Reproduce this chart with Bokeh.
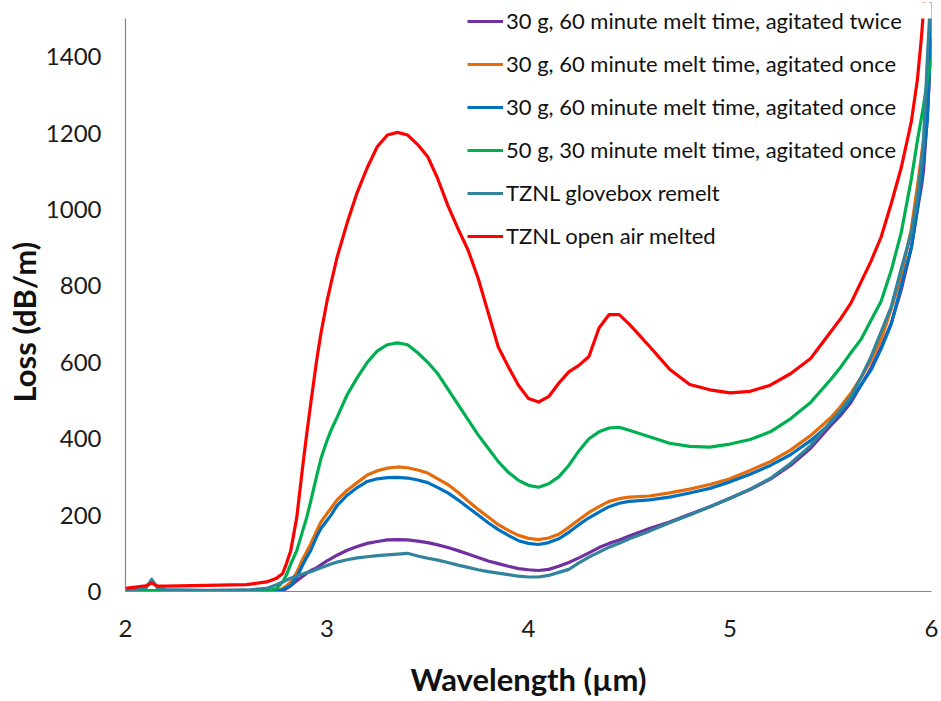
from bokeh.plotting import figure
from bokeh.models import Range1d, FixedTicker, Legend, LegendItem, BoxAnnotation, Title
from bokeh.embed import file_html
from bokeh.resources import INLINE

# Wavelength grid (µm)
wavelength = [2.0, 2.1, 2.13, 2.16, 2.2, 2.4, 2.6, 2.7, 2.75, 2.78, 2.8, 2.82, 2.85, 2.88,
              2.9, 2.92, 2.95, 2.97, 3.0, 3.02, 3.05, 3.1, 3.15, 3.2, 3.25, 3.3, 3.35,
              3.4, 3.45, 3.5, 3.55, 3.6, 3.65, 3.7, 3.75, 3.8, 3.85, 3.9, 3.95, 4.0,
              4.05, 4.1, 4.15, 4.2, 4.25, 4.3, 4.35, 4.4, 4.45, 4.5, 4.6, 4.7, 4.8,
              4.9, 5.0, 5.1, 5.2, 5.3, 5.4, 5.5, 5.55, 5.6, 5.65, 5.7, 5.75, 5.8,
              5.85, 5.9, 5.93, 5.95, 5.96, 5.98, 6.0]

# Loss (dB/m) per series
purple_twice = [1, 1, 1, 1, 1, 1, 1, 1, 1, 3, 8, 15, 28, 40,
                48, 55, 62, 70, 80, 86, 95, 108, 118, 126, 131, 135, 136,
                135, 132, 128, 122, 115, 107, 98, 89, 80, 73, 66, 60, 57,
                55, 58, 66, 76, 88, 101, 115, 126, 135, 145, 165, 182, 202,
                222, 244, 267, 294, 330, 375, 435, 462, 495, 540, 585, 640, 702,
                790, 900, 1000, 1060, 1100, 1250, 1450]

orange_once = [2, 2, 2, 2, 2, 2, 2, 2, 2, 8, 15, 25, 50, 85,
               105, 126, 160, 182, 204, 218, 240, 265, 285, 305, 316, 323, 326,
               324, 318, 310, 295, 280, 260, 237, 215, 195, 175, 160, 147, 139,
               136, 140, 150, 168, 188, 207, 222, 236, 243, 247, 250, 258, 268,
               280, 295, 317, 340, 370, 408, 455, 485, 519, 560, 605, 660, 740,
               825, 950, 1060, 1140, 1180, 1305, 1550]

blue_once = [1, 1, 1, 1, 1, 1, 1, 1, 1, 4, 10, 16, 38, 70,
             90, 108, 145, 165, 186, 200, 225, 252, 272, 288, 295, 298, 299,
             297, 292, 285, 272, 258, 240, 220, 200, 180, 162, 147, 133, 126,
             123, 128, 138, 155, 175, 193, 208, 222, 231, 236, 240, 247, 258,
             270, 287, 307, 330, 358, 395, 440, 468, 501, 540, 580, 635, 700,
             800, 900, 1000, 1080, 1130, 1240, 1500]

green_50g = [2, 2, 2, 2, 2, 2, 2, 2, 8, 25, 45, 72, 107, 160,
             195, 238, 305, 348, 395, 422, 456, 515, 560, 600, 630, 646, 651,
             646, 625, 600, 570, 530, 490, 450, 410, 375, 340, 312, 291, 278,
             273, 282, 300, 330, 368, 400, 418, 428, 430, 422, 405, 388, 380,
             378, 386, 398, 418, 452, 495, 555, 588, 625, 660, 710, 760, 840,
             940, 1080, 1180, 1240, 1270, 1340, 1395]

teal_glovebox = [3, 8, 32, 8, 5, 3, 4, 8, 18, 25, 30, 35, 41, 46,
                 50, 52, 58, 62, 68, 72, 77, 83, 88, 91, 94, 96, 98,
                 100, 93, 87, 82, 76, 69, 63, 57, 52, 48, 44, 40, 38,
                 38, 42, 50, 58, 75, 90, 103, 116, 126, 138, 158, 180, 200,
                 222, 244, 268, 296, 335, 382, 444, 475, 510, 560, 615, 680, 745,
                 845, 940, 1030, 1120, 1180, 1400, 1600]

red_open_air = [8, 15, 22, 14, 14, 16, 18, 25, 35, 47, 75, 107, 194, 330,
                415, 495, 610, 676, 760, 807, 875, 965, 1045, 1110, 1165, 1195, 1202,
                1195, 1170, 1138, 1080, 1010, 950, 894, 820, 730, 640, 588, 540, 505,
                496, 510, 545, 575, 592, 615, 690, 725, 725, 700, 642, 582, 542,
                528, 520, 524, 540, 570, 610, 680, 715, 755, 810, 865, 928, 1015,
                1110, 1230, 1340, 1450, 1520, 1700, 1900]

labels = ["30 g, 60 minute melt time, agitated twice",
          "30 g, 60 minute melt time, agitated once",
          "30 g, 60 minute melt time, agitated once",
          "50 g, 30 minute melt time, agitated once",
          "TZNL glovebox remelt",
          "TZNL open air melted"]
colors = ["#7030A0", "#E46C0A", "#0070C0", "#00B050", "#31849B", "#FF0000"]
series = [purple_twice, orange_once, blue_once, green_50g, teal_glovebox, red_open_air]

x_ticks = [2, 3, 4, 5, 6]
y_ticks = [0, 200, 400, 600, 800, 1000, 1200, 1400]
y_max = 1500

# frame spans from 2 px to 591 px; the axis itself stops at y_max (which sits 18 px from the top)
frame_top, frame_bottom, axis_top = 2, 591, 18
y_end = y_max * (frame_bottom - frame_top) / (frame_bottom - axis_top)

p = figure(width=941, height=701, output_backend="svg", toolbar_location=None,
           x_range=Range1d(2, 6), y_range=Range1d(0, y_end),
           min_border_left=125, min_border_right=10, min_border_top=frame_top,
           min_border_bottom=701 - frame_bottom)
p.outline_line_color = None
p.xgrid.grid_line_color = None
p.ygrid.grid_line_color = None
p.background_fill_color = "white"
p.border_fill_color = "white"

items = []
for lab, col, ys in zip(labels, colors, series):
    r = p.line(wavelength, ys, line_color=col, line_width=3.2, line_join="round")
    items.append(LegendItem(label=lab, renderers=[r]))

# white mask above the top of the value axis (lines leave the chart there)
p.add_layout(BoxAnnotation(bottom=y_max, fill_color="white", fill_alpha=1.0, line_color=None))

for ax in (p.xaxis[0], p.yaxis[0]):
    ax.axis_line_color = "#868686"
    ax.axis_line_width = 1.2
    ax.major_tick_line_color = None
    ax.minor_tick_line_color = None
    ax.major_tick_out = 0
    ax.major_tick_in = 0
    ax.major_label_text_font = "Lato"
    ax.major_label_text_font_size = "24px"
    ax.major_label_text_color = "#1a1a1a"
    ax.axis_label_text_font = "Lato"
    ax.axis_label_text_font_style = "bold"
    ax.axis_label_text_color = "#111111"

p.yaxis.bounds = (0, y_max)
p.xaxis.axis_label_text_font_size = "31px"
p.xaxis.ticker = FixedTicker(ticks=x_ticks)
p.yaxis.ticker = FixedTicker(ticks=y_ticks)
p.xaxis.axis_label = "Wavelength (µm)"
p.xaxis.major_label_standoff = 28
p.yaxis.major_label_standoff = 24
p.xaxis.axis_label_standoff = 20

ytitle = Title(text="Loss (dB/m)", align="left", offset=189, standoff=0,
               text_font="Lato", text_font_style="bold", text_font_size="31px",
               text_color="#111111")
p.add_layout(ytitle, "left")

legend = Legend(items=items, location=(342, 342))
legend.background_fill_alpha = 0
legend.border_line_color = None
legend.label_text_font = "Lato"
legend.label_text_font_size = "22px"
legend.label_text_color = "#111111"
legend.glyph_width = 36
legend.glyph_height = 26
legend.label_height = 26
legend.spacing = 16
legend.label_standoff = 3
legend.padding = 0
legend.margin = 0
p.add_layout(legend, "center")

open("out.html", "w").write(file_html(p, INLINE))
